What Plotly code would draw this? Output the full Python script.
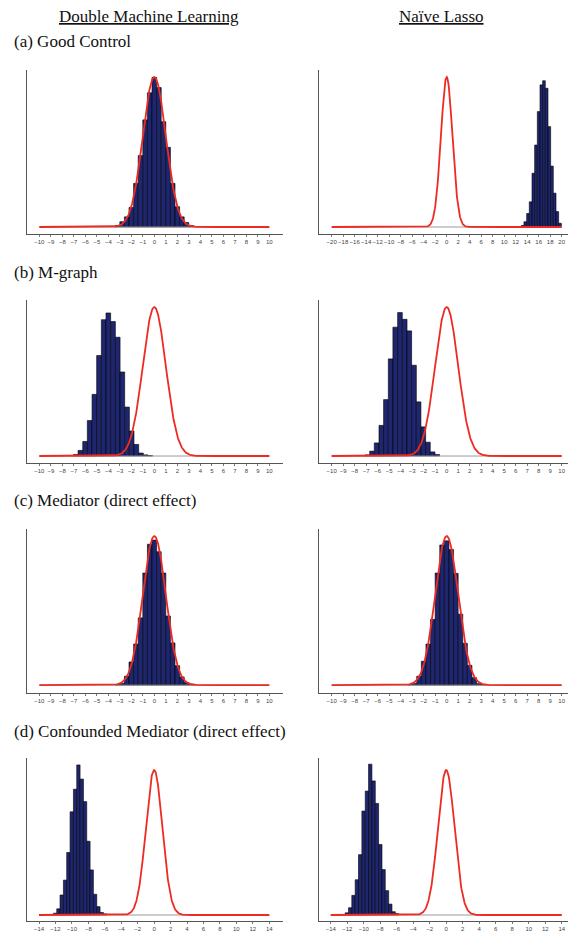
import numpy as np
import plotly.graph_objects as go

W, H = 568, 933

col_titles = ["Double Machine Learning", "Naïve Lasso"]
row_titles = ["(a) Good Control", "(b) M-graph", "(c) Mediator (direct effect)",
              "(d) Confounded Mediator (direct effect)"]

# ---- histogram data (bin centres, densities) ----
a_dml_x = [-3.2, -2.8, -2.4, -2.0, -1.6, -1.2, -0.8, -0.4, 0.0, 0.4, 0.8, 1.2, 1.6, 2.0, 2.4, 2.8, 3.2]
a_dml_y = [0.004, 0.014, 0.027, 0.052, 0.116, 0.190, 0.285, 0.357, 0.398, 0.371, 0.280, 0.212, 0.116, 0.054, 0.027, 0.012, 0.004]

a_las_x = [13.2, 13.67, 14.14, 14.6, 15.07, 15.53, 16.0, 16.46, 16.92, 17.39, 17.85, 18.31, 18.78, 19.24, 19.71]
a_las_y = [0.004, 0.014, 0.036, 0.067, 0.143, 0.218, 0.307, 0.378, 0.389, 0.369, 0.267, 0.162, 0.090, 0.041, 0.010]

b_dml_x = [-6.83, -6.43, -6.02, -5.62, -5.21, -4.81, -4.40, -4.0, -3.59, -3.18, -2.78, -2.37, -1.97, -1.56, -1.16, -0.75, -0.35]
b_dml_y = [0.004, 0.015, 0.039, 0.095, 0.165, 0.269, 0.365, 0.383, 0.360, 0.318, 0.225, 0.131, 0.067, 0.031, 0.008, 0.003, 0.001]

b_las_x = [-6.9, -6.49, -6.09, -5.68, -5.28, -4.87, -4.47, -4.06, -3.65, -3.25, -2.84, -2.44, -2.03, -1.63, -1.22, -0.82]
b_las_y = [0.003, 0.013, 0.035, 0.082, 0.151, 0.260, 0.345, 0.384, 0.366, 0.335, 0.243, 0.145, 0.078, 0.037, 0.011, 0.004]

c_dml_x = [-3.2, -2.8, -2.4, -2.0, -1.6, -1.2, -0.8, -0.4, 0.0, 0.4, 0.8, 1.2, 1.6, 2.0, 2.4, 2.8, 3.2]
c_dml_y = [0.002, 0.005, 0.024, 0.062, 0.110, 0.180, 0.300, 0.377, 0.388, 0.357, 0.300, 0.185, 0.113, 0.052, 0.022, 0.007, 0.002]

c_las_x = [-3.2, -2.8, -2.4, -2.0, -1.6, -1.2, -0.8, -0.4, 0.0, 0.4, 0.8, 1.2, 1.6, 2.0, 2.4, 2.8, 3.2]
c_las_y = [0.002, 0.005, 0.024, 0.064, 0.110, 0.176, 0.300, 0.375, 0.386, 0.363, 0.299, 0.190, 0.112, 0.053, 0.020, 0.004, 0.002]

d_dml_x = [-12.05, -11.64, -11.24, -10.83, -10.43, -10.02, -9.61, -9.21, -8.8, -8.4, -7.99, -7.59, -7.18, -6.78, -6.37, -5.97]
d_dml_y = [0.005, 0.017, 0.055, 0.096, 0.172, 0.284, 0.346, 0.413, 0.374, 0.312, 0.203, 0.124, 0.057, 0.023, 0.007, 0.003]

d_las_x = [-12.05, -11.64, -11.24, -10.83, -10.43, -10.02, -9.61, -9.21, -8.8, -8.4, -7.99, -7.59, -7.18, -6.78, -6.37, -5.97]
d_las_y = [0.006, 0.020, 0.054, 0.097, 0.166, 0.286, 0.341, 0.415, 0.369, 0.307, 0.194, 0.125, 0.067, 0.030, 0.009, 0.004]

bin_widths = [0.4, 0.465, 0.406, 0.406, 0.4, 0.4, 0.406, 0.406]

# tick ranges of each panel
tick_lo = [-10, -20, -10, -10, -10, -10, -14, -14]
tick_hi = [10, 20, 10, 10, 10, 10, 14, 14]
tick_step = [1, 2, 1, 1, 1, 1, 2, 2]

# reference density N(mu, sigma)
mu, sigma = 0.0, 1.0

hists = [(a_dml_x, a_dml_y), (a_las_x, a_las_y), (b_dml_x, b_dml_y), (b_las_x, b_las_y),
         (c_dml_x, c_dml_y), (c_las_x, c_las_y), (d_dml_x, d_dml_y), (d_las_x, d_las_y)]

# ---- layout geometry (pixels) ----
col_px = [(27, 283), (319, 568)]
row_px = [(70, 234), (300, 463), (529, 693), (758, 921)]
x_ranges = [(-11.07, 11.19), (-22.21, 21.1), (-11.07, 11.19), (-11.1, 10.55),
            (-11.07, 11.19), (-11.1, 10.55), (-15.46, 15.67), (-15.42, 14.76)]
y_ranges = [(-0.0186, 0.4176), (-0.0187, 0.4177), (-0.021, 0.4177), (-0.0165, 0.432)]

NAVY = "#1f2670"
RED = "#ee2b22"

fig = go.Figure()
layout = dict(width=W, height=H, margin=dict(l=0, r=0, t=0, b=0),
              paper_bgcolor="white", plot_bgcolor="white", showlegend=False)

for i, (hx, hy) in enumerate(hists):
    r, c = divmod(i, 2)
    sfx = "" if i == 0 else str(i + 1)
    xa, ya = "x" + sfx, "y" + sfx
    fig.add_trace(go.Bar(x=hx, y=hy, width=bin_widths[i], xaxis=xa, yaxis=ya,
                         marker=dict(color=NAVY, line=dict(color="black", width=0.6)),
                         hoverinfo="skip"))
    gx = np.linspace(tick_lo[i], tick_hi[i], 600)
    fig.add_trace(go.Scatter(x=[tick_lo[i], tick_hi[i]], y=[0, 0], mode="lines",
                             line=dict(color="#9a9a9a", width=1), xaxis=xa, yaxis=ya,
                             hoverinfo="skip"))
    dens = np.exp(-0.5 * ((gx - mu) / sigma) ** 2) / (sigma * np.sqrt(2 * np.pi))
    fig.add_trace(go.Scatter(x=gx, y=dens, mode="lines",
                             line=dict(color=RED, width=1.8), xaxis=xa, yaxis=ya,
                             hoverinfo="skip"))
    x0, x1 = col_px[c]
    t, b = row_px[r]
    tv = list(range(tick_lo[i], tick_hi[i] + 1, tick_step[i]))
    layout["xaxis" + sfx] = dict(
        domain=[x0 / W, x1 / W], range=list(x_ranges[i]), anchor=ya,
        showline=True, linecolor="#555555", linewidth=1.4, showgrid=False, zeroline=False,
        tickmode="array", tickvals=tv, ticktext=[("−" + str(-v)) if v < 0 else str(v) for v in tv],
        tickangle=0,
        ticks="outside", ticklen=2, tickwidth=0.8, tickcolor="#777777",
        tickfont=dict(family="Liberation Sans, Arial, sans-serif", size=6, color="#444444"),
        fixedrange=True)
    layout["yaxis" + sfx] = dict(
        domain=[1 - b / H, 1 - t / H], range=list(y_ranges[r]), anchor=xa,
        showline=True, linecolor="#555555", linewidth=1.4, showgrid=False, zeroline=False,
        showticklabels=False, ticks="", fixedrange=True)

ann = []
for c, (txt, cx) in enumerate(zip(col_titles, [148.5, 441])):
    ann.append(dict(text="<u>" + txt + "</u>", x=cx / W, y=1 - 16 / H, xref="paper", yref="paper",
                    xanchor="center", yanchor="middle", showarrow=False,
                    font=dict(family="Liberation Serif, Times New Roman, serif", size=17, color="#111111")))
for r, (txt, cy) in enumerate(zip(row_titles, [42, 272, 501, 731])):
    ann.append(dict(text=txt, x=12 / W, y=1 - cy / H, xref="paper", yref="paper",
                    xanchor="left", yanchor="middle", showarrow=False,
                    font=dict(family="Liberation Serif, Times New Roman, serif", size=17, color="#111111")))
layout["annotations"] = ann
fig.update_layout(**layout)
fig.write_html("out.html")
